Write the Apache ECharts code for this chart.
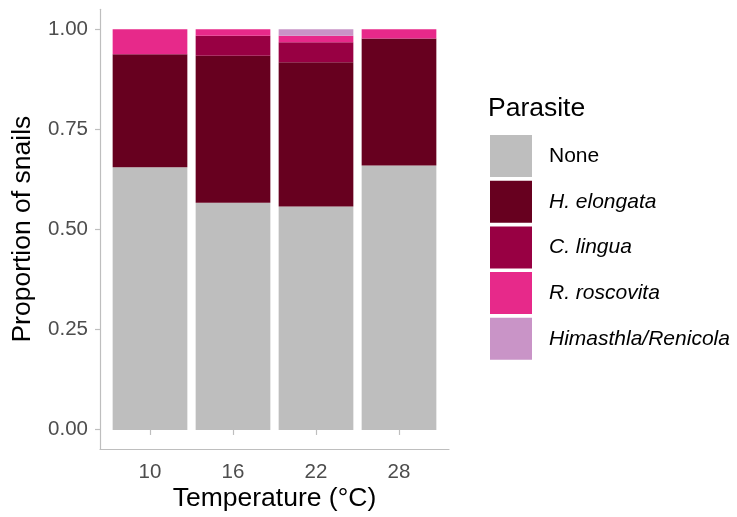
<!DOCTYPE html>
<html><head><meta charset="utf-8">
<script src="https://cdn.jsdelivr.net/npm/echarts@6/dist/echarts.min.js"></script>
<style>html,body{margin:0;padding:0;background:#fff}#c{width:737px;height:517px}</style>
</head><body><div id="c"></div>
<script>
const categories = ['10', '16', '22', '28'];
const seriesNames = ['None', 'H. elongata', 'C. lingua', 'R. roscovita', 'Himasthla/Renicola'];
const none = [0.656, 0.567, 0.558, 0.660];
const hElongata = [0.282, 0.367, 0.360, 0.317];
const cLingua = [0.000, 0.050, 0.050, 0.000];
const rRoscovita = [0.062, 0.016, 0.016, 0.023];
const himasthla = [0.000, 0.000, 0.016, 0.000];
const yTicks = [0, 0.25, 0.5, 0.75, 1];
const colors = ['#BEBEBE', '#67001F', '#980043', '#E7298A', '#C994C7'];

const values = [none, hElongata, cLingua, rRoscovita, himasthla];
const font = 'Liberation Sans, Arial, sans-serif';
const axisGrey = '#BEBEBE';
const chart = echarts.init(document.getElementById('c'), null, {renderer: 'canvas'});
chart.setOption({
  animation: false,
  backgroundColor: '#fff',
  title: {text: 'Parasite', left: 488, top: 95, padding: 0,
    textStyle: {fontFamily: font, fontSize: 26.5, fontWeight: 'normal', color: '#000'}},
  legend: {
    orient: 'vertical', left: 485, top: 130, itemWidth: 42, itemHeight: 42, itemGap: 3.7,
    icon: 'rect', data: seriesNames,
    formatter: n => n === 'None' ? '{n|' + n + '}' : '{i|' + n + '}',
    textStyle: {fontFamily: font, fontSize: 21, color: '#000', padding: [0, 0, 0, 12],
      rich: {n: {fontFamily: font, fontSize: 21, color: '#000'}, i: {fontFamily: font, fontSize: 21, color: '#000', fontStyle: 'italic'}}}
  },
  grid: [
    {left: 108.5, right: 296.5, top: 9.3, bottom: 67, containLabel: false},
    {left: 100, right: 288, top: 9.3, bottom: 67, containLabel: false}
  ],
  xAxis: [{
    type: 'category', gridIndex: 0, data: categories,
    axisLine: {show: false},
    axisTick: {show: true, alignWithLabel: true, length: 5, lineStyle: {color: axisGrey, width: 1.2}},
    axisLabel: {color: '#4D4D4D', fontSize: 20.5, fontFamily: font, margin: 12}
  }, {
    type: 'value', gridIndex: 1, min: 0, max: 1,
    splitLine: {show: false},
    axisLine: {show: true, onZero: false, lineStyle: {color: axisGrey, width: 1.2}},
    axisTick: {show: false}, axisLabel: {show: false},
    name: 'Temperature (°C)', nameLocation: 'middle', nameGap: 36,
    nameTextStyle: {fontFamily: font, fontSize: 26.5, color: '#000'}
  }],
  yAxis: [{
    type: 'value', gridIndex: 0, min: -0.05, max: 1.05,
    show: false
  }, {
    type: 'value', gridIndex: 1, min: -0.05, max: 1.05,
    splitLine: {show: false},
    axisLine: {show: true, onZero: false, lineStyle: {color: axisGrey, width: 1.2}},
    axisTick: {show: true, length: 5, lineStyle: {color: axisGrey, width: 1.2}, customValues: yTicks},
    axisLabel: {customValues: yTicks, formatter: v => v.toFixed(2), color: '#4D4D4D', fontSize: 20.5, fontFamily: font, margin: 12},
    name: 'Proportion of snails', nameLocation: 'middle', nameGap: 64,
    nameTextStyle: {fontFamily: font, fontSize: 26.5, color: '#000'}
  }],
  series: seriesNames.map((name, s) => ({
    name, type: 'bar', stack: 'total', barWidth: 74.7, xAxisIndex: 0, yAxisIndex: 0,
    itemStyle: {color: colors[s]},
    data: values[s]
  }))
});
</script></body></html>
